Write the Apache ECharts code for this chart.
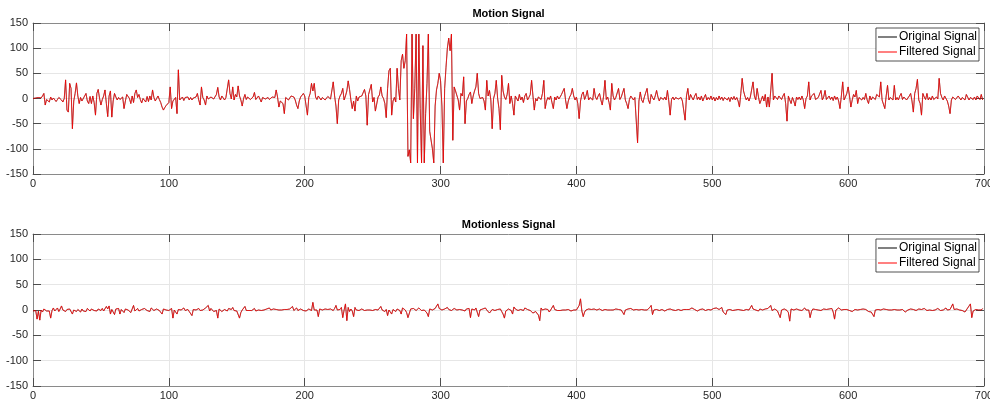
<!DOCTYPE html>
<html>
<head>
<meta charset="utf-8">
<script src="https://cdn.jsdelivr.net/npm/echarts@6/dist/echarts.min.js"></script>
<style>
  html, body { margin: 0; padding: 0; background: #ffffff; }
  #chart { width: 990px; height: 400px; }
</style>
</head>
<body>
<div id="chart"></div>
<script>
// Axis ticks shared by both panels
const xTicks = [0, 100, 200, 300, 400, 500, 600, 700];
const yTicks = [-150, -100, -50, 0, 50, 100, 150];

const panelTitles = ['Motion Signal', 'Motionless Signal'];
const seriesNames = ['Original Signal', 'Filtered Signal'];

// Sensor trace recorded while moving (one value per sample)
const motionSignal = [
  0,-1,1,0,2,-1,1,5,10,-13,-2,-4,-7,3,-3,1,-2,-6,-2,2,
  0,-3,-7,0,37,-23,-27,30,20,-60,-5,10,31,5,-10,2,-5,-3,5,10,
  -5,-10,4,-10,5,-8,-33,10,18,0,-13,-2,5,17,-10,-36,5,15,-37,-5,
  10,3,-3,2,-2,0,3,-20,-5,8,10,0,-10,5,-8,10,17,2,8,-2,
  -9,0,-3,-7,4,-6,5,-3,17,2,-5,0,5,-2,-8,-17,-23,-18,-14,-12,
  -8,23,-20,-5,-3,2,-30,57,-3,-2,3,-4,2,-1,3,-3,2,-3,1,-2,
  3,10,-3,-13,23,2,-3,-13,5,-1,-3,3,6,-1,2,8,22,3,-3,5,
  8,-3,2,4,37,10,-1,23,-3,8,3,25,5,-3,-15,0,8,-2,3,5,
  -2,0,3,12,-2,-3,5,3,-7,2,5,-1,-3,2,-2,-3,3,5,2,17,
  3,-17,-5,-3,-10,-30,2,5,-3,-2,5,8,3,-3,-13,-20,-5,3,5,10,
  5,3,-33,2,10,30,15,30,3,-2,5,7,-3,2,5,-3,-1,4,5,-1,
  2,33,5,-15,-50,-3,5,10,20,-3,5,15,35,18,-3,-20,-5,-25,5,-5,
  3,2,5,8,18,5,-53,8,10,28,-7,2,-25,-28,3,7,23,5,0,-10,
  -38,20,55,60,-33,-5,2,-7,60,20,-3,75,88,60,75,128,-115,-102,-128,128,
  -40,20,128,-128,128,-20,-128,105,-128,-30,30,128,-65,-68,-100,-128,-15,17,30,50,
  35,-15,-128,20,62,100,120,95,128,-83,23,15,16,-3,-23,10,5,43,-50,-5,
  0,8,13,-10,5,15,23,50,10,0,-3,2,-5,-23,36,5,16,-3,-60,0,
  10,36,0,-20,-62,46,15,3,-2,8,30,-10,5,-10,-33,5,2,-5,8,-3,
  3,-8,5,10,-3,2,8,36,5,-23,0,-5,3,5,-2,10,36,-20,-5,2,
  -2,5,-8,-20,3,-3,5,-1,3,8,5,20,-3,-20,-5,3,8,20,5,-3,
  3,-10,-40,-5,8,13,-2,5,16,-3,2,5,-3,20,3,-2,5,10,-3,-13,
  5,36,-2,3,-8,-23,30,5,-3,2,5,20,-2,3,5,20,-3,-10,-20,-2,
  5,8,-3,2,5,-88,-5,13,-3,-8,3,5,20,-3,-10,8,2,-3,5,16,
  3,-5,2,5,-2,3,-3,16,-5,-33,-2,3,-3,2,5,-1,-3,2,-5,-8,
  -43,5,20,-3,8,2,-3,5,10,-2,3,-3,5,-5,2,8,-3,2,-2,5,
  -3,3,-5,2,-3,5,-2,3,-4,2,5,-3,2,-6,3,-2,4,-3,2,-5,
  -17,10,40,15,5,-3,2,-5,3,6,33,5,-3,20,3,-10,-3,5,-5,8,
  -17,3,-17,15,50,-3,5,3,-2,5,3,-2,5,10,-10,-45,5,-3,-10,2,
  -5,-15,3,-2,3,-3,5,-3,-20,0,5,33,-3,5,3,10,-2,-3,2,5,
  16,-3,3,16,-2,-3,5,-2,3,-4,5,-2,3,-5,-20,5,33,-3,3,10,
  23,5,-17,-3,8,3,16,-10,2,5,-3,2,-2,10,-3,-10,5,-3,3,5,
  -2,8,10,3,33,-3,-5,-20,5,26,-3,2,5,-3,26,-3,2,-3,5,10,
  -2,3,5,-3,-2,5,10,-5,-27,10,20,38,-3,-10,-33,10,3,-2,10,-3,
  2,-3,5,-2,-3,3,-1,40,10,2,-3,5,3,-5,-15,-30,-3,3,5,-2,
  -3,5,8,-3,2,5,-3,8,10,-3,2,5,-2,3,-3,5,3,-2,8,-3
];

// Sensor trace recorded while still (one value per sample)
const motionlessSignal = [
  -2,-3,-1,-18,-2,-20,0,-4,2,-1,-2,1,-2,-16,-1,4,-2,1,4,-3,
  2,8,0,-2,-3,1,-1,2,3,-8,0,2,-3,1,-1,-4,2,-2,1,-3,
  3,0,-2,2,3,-1,1,-2,2,0,-1,3,-2,1,7,2,8,-8,1,0,
  -9,2,-1,3,-8,1,0,-5,2,-1,0,3,-5,2,9,-2,0,3,-2,-5,
  1,-2,3,0,-1,2,-3,4,1,-1,0,2,5,-1,0,-8,2,-1,0,3,
  -1,0,3,-16,0,2,-8,1,-2,0,2,4,-1,2,1,-3,-2,-11,1,-2,
  0,2,3,-1,1,0,-2,4,2,9,-2,3,5,-3,0,-1,-16,2,0,-3,
  -4,1,0,-2,3,2,1,5,-1,0,-2,0,-16,-5,0,3,7,-1,-3,-1,
  2,-1,0,3,-2,1,0,2,-1,1,0,-2,2,1,4,0,-1,2,-1,1,
  -1,0,2,0,-2,1,0,1,-1,2,4,7,-1,2,4,-1,0,2,0,-1,
  1,-2,0,2,1,-1,15,0,-2,0,-13,2,5,0,-1,2,0,1,-1,2,
  0,-1,3,9,0,-2,1,5,-15,0,12,-21,5,-3,2,-2,-13,5,0,2,
  -1,-3,2,0,-1,1,0,-2,0,1,-1,0,1,-1,0,2,7,0,-2,-3,
  1,-11,0,-3,-8,1,0,-3,2,3,-1,-8,4,1,0,-5,-15,-18,2,1,
  3,0,-1,2,4,1,-1,0,0,-2,-6,-13,2,1,0,-1,3,2,12,3,
  2,0,-1,2,3,5,1,0,-1,2,3,1,0,2,1,-1,0,1,-2,2,
  1,3,-15,2,1,0,4,5,-13,0,-1,2,3,4,0,-1,-6,-3,1,2,
  -1,-2,1,4,2,-3,-8,-16,-2,0,2,5,-1,-8,6,2,0,-1,2,1,
  0,-1,4,3,1,0,-1,-2,-6,-4,-3,-2,-10,-21,4,0,-1,2,0,1,
  -4,0,2,9,1,0,-1,0,-1,2,0,1,0,-1,1,0,-2,-1,0,1,
  0,2,9,22,-2,-13,-4,0,1,2,3,1,0,2,1,0,1,2,0,-1,
  0,1,-1,0,1,0,1,0,-1,2,0,1,2,0,-3,-9,0,1,2,-1,
  3,1,0,2,1,-1,0,2,1,-1,0,1,0,2,5,9,-9,0,2,1,
  0,-1,2,1,0,-2,0,1,3,2,5,0,1,-1,2,1,2,-1,0,1,
  0,1,2,1,0,4,2,1,0,-2,0,1,0,2,0,-1,0,1,2,0,
  1,3,2,4,6,1,-2,5,-4,-5,-9,0,2,1,0,-1,1,0,-2,1,
  2,0,1,-1,0,1,-2,0,2,9,2,-1,0,1,-2,2,1,0,-1,2,
  1,3,4,9,-1,0,2,1,-2,-1,-15,0,1,2,0,-1,-5,-22,2,1,
  0,1,2,4,0,1,-1,2,4,0,1,0,-15,-3,2,0,1,-1,0,1,
  -1,0,2,0,1,0,2,-1,3,-4,-18,0,2,4,1,0,-1,1,0,1,
  0,-1,2,-3,0,1,2,0,-1,1,0,2,4,1,-2,-3,0,-4,-5,-13,
  0,2,1,3,0,1,2,0,1,-1,0,1,0,2,1,-2,0,1,0,-1,
  1,0,-4,-7,0,1,2,0,1,3,-1,0,2,4,1,0,3,2,-1,0,
  0,1,-1,0,0,2,3,4,-1,0,0,1,4,0,-1,1,3,12,1,0,
  2,4,0,1,-1,0,-4,-3,4,8,12,-15,-2,0,1,-1,0,2,0,3
];

// At this scale the filtered trace lies on top of the original one
const panelSignals = [motionSignal, motionlessSignal];

const FONT = 'Arial, "Liberation Sans", Helvetica, sans-serif';
const AXIS_COLOR = '#8a8a8a';
const TICK_COLOR = '#4d4d4d';
const GRID_COLOR = '#e6e6e6';
const LABEL_COLOR = '#262626';
const LINE_COLORS = ['#000000', '#ff0000'];
const LINE_WIDTHS = [0.5, 0.75];

const panels = [
  { top: 23, height: 151, legendTop: 28, titleTop: 8 },
  { top: 234, height: 152, legendTop: 239, titleTop: 219 }
];
const plotLeft = 33;
const plotRight = 6;
const plotCenter = plotLeft + (990 - plotLeft - plotRight) / 2;

const xMin = xTicks[0], xMax = xTicks[xTicks.length - 1], xStep = xTicks[1] - xTicks[0];
const yMin = yTicks[0], yMax = yTicks[yTicks.length - 1], yStep = yTicks[1] - yTicks[0];

// thin horizontal bar used as the legend key
const LEGEND_KEY = 'path://M0,0 H19 V1 H0 Z';

const grid = [], xAxis = [], yAxis = [], series = [], title = [], legend = [];

panels.forEach((p, k) => {
  grid.push({ left: plotLeft, right: plotRight, top: p.top, height: p.height,
              containLabel: false, outerBoundsMode: 'none' });

  const xBase = {
    gridIndex: k, type: 'value', min: xMin, max: xMax, interval: xStep,
    axisLine: { show: true, onZero: false, lineStyle: { color: AXIS_COLOR, width: 1 } },
    axisTick: { show: true, inside: true, length: 8, lineStyle: { color: TICK_COLOR, width: 1 } }
  };
  xAxis.push(Object.assign({}, xBase, {
    position: 'bottom',
    axisLabel: { show: true, color: LABEL_COLOR, fontSize: 11, fontFamily: FONT, margin: 4,
                 showMinLabel: true, showMaxLabel: true, hideOverlap: false },
    splitLine: { show: true, lineStyle: { color: GRID_COLOR, width: 1 } }
  }));
  xAxis.push(Object.assign({}, xBase, {
    position: 'top', axisLabel: { show: false }, splitLine: { show: false }
  }));

  const yBase = {
    gridIndex: k, type: 'value', min: yMin, max: yMax, interval: yStep,
    axisLine: { show: true, onZero: false, lineStyle: { color: AXIS_COLOR, width: 1 } },
    axisTick: { show: true, inside: true, length: 8, lineStyle: { color: TICK_COLOR, width: 1 } }
  };
  yAxis.push(Object.assign({}, yBase, {
    position: 'left',
    axisLabel: { show: true, color: LABEL_COLOR, fontSize: 11, fontFamily: FONT, margin: 5,
                 showMinLabel: true, showMaxLabel: true, hideOverlap: false },
    splitLine: { show: true, lineStyle: { color: GRID_COLOR, width: 1 } }
  }));
  yAxis.push(Object.assign({}, yBase, {
    position: 'right', axisLabel: { show: false }, splitLine: { show: false }
  }));

  const points = panelSignals[k].map((v, i) => [i, v]);
  seriesNames.forEach((name, s) => {
    series.push({
      name, type: 'line', xAxisIndex: 2 * k, yAxisIndex: 2 * k,
      data: points, symbol: 'none', showSymbol: false, silent: true,
      lineStyle: { color: LINE_COLORS[s], width: LINE_WIDTHS[s] },
      itemStyle: { color: LINE_COLORS[s] },
      z: 2 + s
    });
  });

  title.push({
    text: panelTitles[k], left: plotCenter, top: p.titleTop, textAlign: 'center', padding: 0,
    textStyle: { fontSize: 11, fontWeight: 'bold', color: '#000', fontFamily: FONT }
  });

  legend.push({
    data: seriesNames.map(name => ({ name, icon: LEGEND_KEY })),
    orient: 'vertical', right: 11, top: p.legendTop,
    itemWidth: 19, itemHeight: 12, itemGap: 3, padding: [3, 2, 3, 2],
    symbolKeepAspect: true,
    borderColor: '#262626', borderWidth: 0.8, borderRadius: 0, backgroundColor: '#ffffff',
    selectedMode: false,
    textStyle: { fontSize: 12, color: '#000', fontFamily: FONT, padding: [0, 0, 0, -3] }
  });
});

const chart = echarts.init(document.getElementById('chart'), null, { renderer: 'canvas' });
chart.setOption({
  animation: false,
  backgroundColor: '#ffffff',
  title, legend, grid, xAxis, yAxis, series
});
</script>
</body>
</html>
